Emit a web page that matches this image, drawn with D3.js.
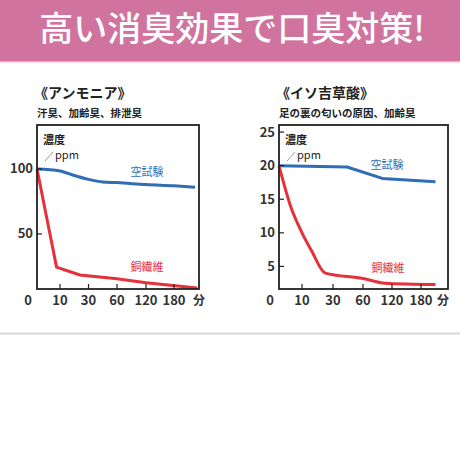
<!DOCTYPE html>
<html>
<head>
<meta charset="utf-8">
<script src="https://cdn.jsdelivr.net/npm/d3@7"></script>
<style>
  body { margin: 0; background: #fff; }
  svg { display: block; }
  text { font-family: "Noto Sans CJK JP", "Noto Sans", sans-serif; }
</style>
</head>
<body>
<div id="chart"></div>
<script>
// x-axis tick labels (minutes)
var xTicks = [0, 10, 30, 60, 120, 180];

// Ammonia (left panel)
var ammoniaBlank = [[0, 100], [10, 98.5], [20, 95], [30, 92], [45, 90], [60, 89.5], [120, 88], [180, 87], [225, 86]];
var ammoniaCopper = [[0, 100], [8.5, 24.5], [24, 18.5], [60, 15.5], [120, 12.5], [230, 8.5]];
var ammoniaYTicks = [50, 100];

// Isovaleric acid (right panel)
var isoBlank = [[0, 20], [44, 19.8], [100, 18.1], [210, 17.6]];
var isoCopper = [[0, 20], [5, 14], [10, 10], [16, 7.4], [25, 4], [60, 3.2], [105, 2.5], [210, 2.3]];
var isoYTicks = [5, 10, 15, 20, 25];

var W = 460, H = 460;
var blue = "#2f6db4", red = "#e6303a", ink = "#222";

var svg = d3.select("#chart").append("svg")
	.attr("width", W)
	.attr("height", H);

// banner
svg.append("rect").attr("x", 0).attr("y", 0).attr("width", W).attr("height", 61).attr("fill", "#d0749f");
svg.append("rect").attr("x", 0).attr("y", 61).attr("width", W).attr("height", 1.5).attr("fill", "#e9b3ca");
svg.append("text")
	.attr("x", 232).attr("y", 41)
	.attr("text-anchor", "middle")
	.attr("fill", "#fff")
	.attr("font-size", 34)
	.attr("font-weight", 500)
	.text("高い消臭効果で口臭対策!");

// divider near bottom
svg.append("rect").attr("x", 0).attr("y", 332.5).attr("width", W).attr("height", 2).attr("fill", "#d6d6d6");

function drawPanel(cfg) {
	var g = svg.append("g");

	var x = d3.scaleLinear()
		.domain([0, 10, 30, 60, 120, 180, 240])
		.range(cfg.xRange);

	var y = d3.scaleLinear()
		.domain(cfg.yDomain)
		.range([cfg.bottom, cfg.top]);

	var left = cfg.xRange[0], right = cfg.right;

	// titles
	g.append("text")
		.attr("x", left - 3).attr("y", 98)
		.attr("font-size", 14).attr("font-weight", 700).attr("fill", ink)
		.text(cfg.title);
	g.append("text")
		.attr("x", left).attr("y", 117)
		.attr("font-size", 10.5).attr("font-weight", 700).attr("fill", ink)
		.text(cfg.subtitle);

	// lines
	function makeLine(curve) {
		return d3.line()
			.x(function (d) { return x(d[0]); })
			.y(function (d) { return y(d[1]); })
			.curve(curve);
	}

	g.append("path").datum(cfg.blank)
		.attr("d", makeLine(cfg.blankCurve)).attr("fill", "none")
		.attr("stroke", blue).attr("stroke-width", 3)
		.attr("stroke-linejoin", "round");
	g.append("path").datum(cfg.copper)
		.attr("d", makeLine(cfg.copperCurve)).attr("fill", "none")
		.attr("stroke", red).attr("stroke-width", 3)
		.attr("stroke-linejoin", "round");

	// frame
	g.append("rect")
		.attr("x", left).attr("y", cfg.top)
		.attr("width", right - left).attr("height", cfg.bottom - cfg.top)
		.attr("fill", "none").attr("stroke", ink).attr("stroke-width", 1.8);

	// y ticks (inward) and labels
	g.selectAll(".ytick").data(cfg.yTicks).enter().append("line")
		.attr("x1", left).attr("x2", left + 5)
		.attr("y1", function (d) { return y(d); })
		.attr("y2", function (d) { return y(d); })
		.attr("stroke", ink).attr("stroke-width", 1.2);
	g.selectAll(".ylab").data(cfg.yTicks).enter().append("text")
		.attr("x", left - 4)
		.attr("y", function (d) { return Math.max(y(d), cfg.top + 2) + 4.5; })
		.attr("text-anchor", "end")
		.attr("font-size", 13).attr("font-weight", 700).attr("fill", "#333")
		.text(function (d) { return d; });

	// x ticks (inward) and labels
	g.selectAll(".xtick").data(xTicks.slice(1)).enter().append("line")
		.attr("x1", function (d) { return x(d); })
		.attr("x2", function (d) { return x(d); })
		.attr("y1", cfg.bottom).attr("y2", cfg.bottom - 5)
		.attr("stroke", ink).attr("stroke-width", 1.2);
	g.selectAll(".xlab").data(xTicks).enter().append("text")
		.attr("x", function (d) { return d === 0 ? left - 9 : x(d); })
		.attr("y", cfg.bottom + 16)
		.attr("text-anchor", "middle")
		.attr("font-size", 13).attr("font-weight", 700).attr("fill", "#333")
		.text(function (d) { return d; });
	g.append("text")
		.attr("x", cfg.unitX).attr("y", cfg.bottom + 16)
		.attr("text-anchor", "middle")
		.attr("font-size", 12).attr("font-weight", 700).attr("fill", "#333")
		.text("分");

	// unit label
	g.append("text")
		.attr("x", left + 6).attr("y", 144)
		.attr("font-size", 11).attr("font-weight", 700).attr("fill", ink)
		.text("濃度");
	g.append("line")
		.attr("x1", left + 8).attr("y1", 161)
		.attr("x2", left + 16).attr("y2", 152)
		.attr("stroke", "#999").attr("stroke-width", 1);
	g.append("text")
		.attr("x", left + 18).attr("y", 159)
		.attr("font-size", 11).attr("fill", ink)
		.text("ppm");

	// series labels
	g.append("text")
		.attr("x", cfg.blankLabel[0]).attr("y", cfg.blankLabel[1])
		.attr("text-anchor", "middle")
		.attr("font-size", 11).attr("fill", blue)
		.text("空試験");
	g.append("text")
		.attr("x", cfg.copperLabel[0]).attr("y", cfg.copperLabel[1])
		.attr("text-anchor", "middle")
		.attr("font-size", 11).attr("fill", red)
		.text("銅繊維");
}

drawPanel({
	title: "《アンモニア》",
	subtitle: "汗臭、加齢臭、排泄臭",
	xRange: [37, 60, 88.5, 117, 146, 174, 202],
	right: 199,
	top: 125, bottom: 289,
	yDomain: [7.7, 133.8],
	yTicks: ammoniaYTicks,
	blank: ammoniaBlank,
	copper: ammoniaCopper,
	blankCurve: d3.curveMonotoneX,
	copperCurve: d3.curveLinear,
	unitX: 199,
	blankLabel: [147, 176],
	copperLabel: [147, 271]
});

drawPanel({
	title: "《イソ吉草酸》",
	subtitle: "足の裏の匂いの原因、加齢臭",
	xRange: [279, 302, 333, 363, 392, 421, 450],
	right: 448,
	top: 125, bottom: 289,
	yDomain: [1.64, 26.05],
	yTicks: isoYTicks,
	blank: isoBlank,
	copper: isoCopper,
	blankCurve: d3.curveLinear,
	copperCurve: d3.curveMonotoneX,
	unitX: 443,
	blankLabel: [387, 169],
	copperLabel: [388, 272]
});
</script>
</body>
</html>
